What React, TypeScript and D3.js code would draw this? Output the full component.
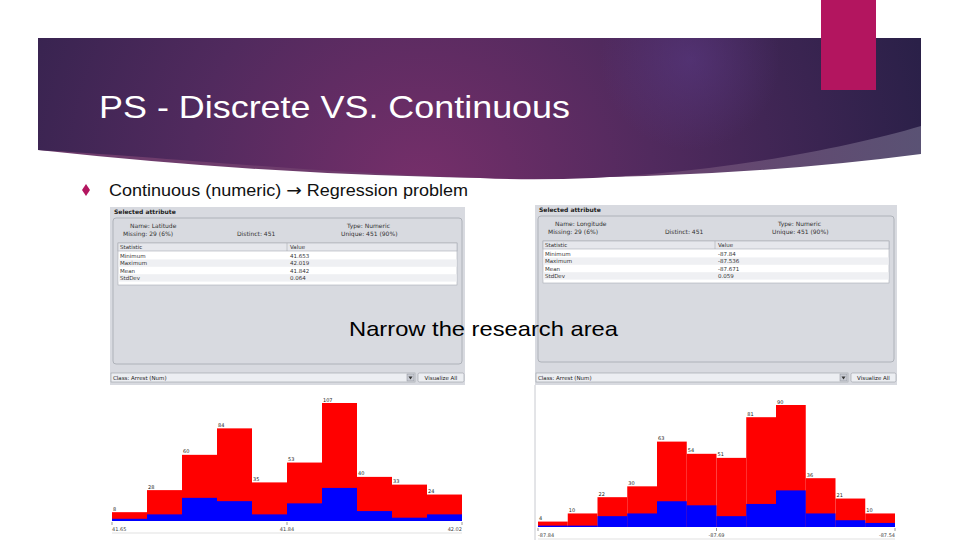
import React from 'react';
import * as d3 from 'd3';

// ---- data ----
const latCounts = [8, 28, 60, 84, 35, 53, 107, 40, 33, 24];
const latBlue = [2, 6, 21, 18, 6, 16, 30, 9, 3, 6];
const latTicks = ['41.65', '41.84', '42.02'];
const lonCounts = [4, 10, 22, 30, 63, 54, 51, 81, 90, 36, 21, 10];
const lonBlue = [1, 1, 8, 10, 19, 16, 8, 17, 27, 10, 5, 3];
const lonTicks = ['-87.84', '-87.69', '-87.54'];
const statNames = ['Minimum', 'Maximum', 'Mean', 'StdDev'];
const latStats = ['41.653', '42.019', '41.842', '0.064'];
const lonStats = ['-87.84', '-87.536', '-87.671', '0.059'];

const SMALL = '"DejaVu Sans", sans-serif';
const ARIAL = '"Liberation Sans", Arial, sans-serif';

type HistProps = {
  x0: number; x1: number; base: number; top: number;
  counts: number[]; blue: number[]; ticks: string[];
};

function Histogram({ x0, x1, base, top, counts, blue, ticks }: HistProps) {
  const n = counts.length;
  const x = d3.scaleLinear().domain([0, n]).range([x0, x1]);
  const y = d3.scaleLinear().domain([0, d3.max(counts) as number]).range([base, top]);
  const tickPos = [0, n / 2, n];
  return (
    <g>
      {counts.map((c, i) => (
        <rect key={'r' + i} x={x(i)} y={y(c)} width={x(i + 1) - x(i)} height={base - y(c)}
          fill="#ff0000" />
      ))}
      {blue.map((b, i) => (
        <rect key={'b' + i} x={x(i)} y={y(b)} width={x(i + 1) - x(i)} height={base - y(b)}
          fill="#0000ff" />
      ))}
      {counts.map((c, i) => (
        <text key={'t' + i} x={x(i) + 1} y={y(c) - 1.5} fontSize={5} fontFamily={SMALL} fill="#222">{c}</text>
      ))}
      {tickPos.map((t, i) => (
        <line key={'k' + i} x1={x(t)} x2={x(t)} y1={base + 1} y2={base + 4} stroke="#555" strokeWidth={0.6} />
      ))}
      {tickPos.map((t, i) => (
        <text key={'l' + i} x={x(t)} y={base + 10} fontSize={5} fontFamily={SMALL} fill="#444"
          textAnchor={i === 0 ? 'start' : i === 1 ? 'middle' : 'end'}>{ticks[i]}</text>
      ))}
      <line x1={x0} x2={x1} y1={base + 12} y2={base + 12} stroke="#ccc" strokeWidth={0.6} />
    </g>
  );
}

type PanelProps = {
  left: number; right: number; top: number;
  name: string; stats: string[]; valueX: number; distinctX: number; typeX: number;
  comboRight: number;
};

function Panel({ left, right, top, name, stats, valueX, distinctX, typeX, comboRight }: PanelProps) {
  const w = right - left;
  const tblTop = top + 36;
  return (
    <g>
      <rect x={left} y={top} width={w} height={385 - top} fill="#d8dae0" />
      <text x={left + 4} y={top + 7} fontSize={6} fontWeight="bold" fontFamily={SMALL} fill="#222">Selected attribute</text>
      <rect x={left + 3} y={top + 11} width={w - 6} height={146} rx={3} fill="#d8dae0" stroke="#a4a8b0" strokeWidth={0.8} />
      <text x={left + 20} y={top + 21} fontSize={6} fontFamily={SMALL} fill="#333">Name: {name}</text>
      <text x={left + 13} y={top + 29} fontSize={6} fontFamily={SMALL} fill="#333">Missing: 29 (6%)</text>
      <text x={distinctX} y={top + 29} fontSize={6} fontFamily={SMALL} fill="#333">Distinct: 451</text>
      <text x={typeX} y={top + 21} fontSize={6} fontFamily={SMALL} fill="#333">Type: Numeric</text>
      <text x={typeX - 6} y={top + 29} fontSize={6} fontFamily={SMALL} fill="#333">Unique: 451 (90%)</text>
      <rect x={left + 8} y={tblTop} width={w - 16} height={42} fill="#ffffff" stroke="#a8acb4" strokeWidth={0.6} />
      <rect x={left + 8} y={tblTop} width={w - 16} height={8} fill="#e6e7ec" stroke="#a8acb4" strokeWidth={0.6} />
      <line x1={valueX - 3} x2={valueX - 3} y1={tblTop} y2={tblTop + 8} stroke="#a8acb4" strokeWidth={0.6} />
      <text x={left + 10} y={tblTop + 6} fontSize={5.5} fontFamily={SMALL} fill="#333">Statistic</text>
      <text x={valueX} y={tblTop + 6} fontSize={5.5} fontFamily={SMALL} fill="#333">Value</text>
      {statNames.map((s, i) => (
        <g key={s}>
          {i % 2 === 1 && <rect x={left + 8.5} y={tblTop + 9 + i * 7.4} width={w - 17} height={7.4} fill="#eff0f3" />}
          <text x={left + 10} y={tblTop + 15 + i * 7.4} fontSize={5.5} fontFamily={SMALL} fill="#333">{s}</text>
          <text x={valueX} y={tblTop + 15 + i * 7.4} fontSize={5.5} fontFamily={SMALL} fill="#333">{stats[i]}</text>
        </g>
      ))}
      <rect x={left + 1} y={373} width={comboRight - left - 1} height={9} fill="#eceef2" stroke="#9a9ea6" strokeWidth={0.6} />
      <text x={left + 3} y={380} fontSize={5.5} fontFamily={SMALL} fill="#222">Class: Arrest (Num)</text>
      <rect x={comboRight - 8} y={374} width={7} height={7} fill="#c9ccd4" stroke="#8a8e96" strokeWidth={0.5} />
      <path d={`M${comboRight - 6.5},376.5 L${comboRight - 2.5},376.5 L${comboRight - 4.5},379.5 Z`} fill="#333" />
      <rect x={comboRight + 3} y={373} width={right - comboRight - 4} height={9} rx={1.5} fill="#eceef2" stroke="#9a9ea6" strokeWidth={0.6} />
      <text x={(comboRight + right) / 2 + 1} y={380} fontSize={5.5} fontFamily={SMALL} fill="#222" textAnchor="middle">Visualize All</text>
    </g>
  );
}

export default function App() {
  // banner geometry
  const outerBottom = 'M38,38 L921,38 L921,154 Q540,204 38,150 Z';
  const darkShape = 'M38,38 L921,38 L921,126 C820,156 640,186 480,178 C300,172 150,156 38,150 Z';
  return (
    <svg width={960} height={540} style={{ position: 'absolute', left: 0, top: 0 }}>
      <defs>
        <radialGradient id="bannerGrad" gradientUnits="userSpaceOnUse" cx={420} cy={190} r={520}>
          <stop offset="0" stopColor="#762f6a" />
          <stop offset="0.45" stopColor="#512a5e" />
          <stop offset="1" stopColor="#2a2048" />
        </radialGradient>
        <radialGradient id="spot" gradientUnits="userSpaceOnUse" cx={690} cy={60} r={90}>
          <stop offset="0" stopColor="#5a3a86" stopOpacity={0.55} />
          <stop offset="1" stopColor="#5a3a86" stopOpacity={0} />
        </radialGradient>
        <linearGradient id="wedge" gradientUnits="userSpaceOnUse" x1={560} y1={0} x2={921} y2={0}>
          <stop offset="0" stopColor="#6e3c6c" />
          <stop offset="1" stopColor="#5a5274" />
        </linearGradient>
      </defs>
      <rect x={0} y={0} width={960} height={540} fill="#ffffff" />
      <path d={outerBottom} fill="url(#wedge)" />
      <path d={darkShape} fill="url(#bannerGrad)" />
      <path d={darkShape} fill="url(#spot)" />
      <rect x={821} y={0} width={55} height={90} fill="#b3155f" />
      <text x={99} y={118} fontSize={32} fontFamily={ARIAL} fill="#ffffff" textLength={471} lengthAdjust="spacingAndGlyphs">PS - Discrete VS. Continuous</text>

      <path d="M86,184 L90,190 L86,196 L82,190 Z" fill="#b3155f" />
      <text x={109} y={196} fontSize={16.5} fontFamily={ARIAL} fill="#111" textLength={359} lengthAdjust="spacingAndGlyphs">Continuous (numeric) <tspan fontFamily={SMALL} fontSize={17}>→</tspan> Regression problem</text>

      <Panel left={110} right={465} top={207} name="Latitude" stats={latStats}
        valueX={290} distinctX={237} typeX={347} comboRight={415} />
      <Panel left={535} right={897} top={205} name="Longitude" stats={lonStats}
        valueX={718} distinctX={665} typeX={778} comboRight={848} />
      <line x1={535} x2={535} y1={385} y2={540} stroke="#c8cad0" strokeWidth={1} />

      <Histogram x0={112} x1={462} base={521} top={403} counts={latCounts} blue={latBlue} ticks={latTicks} />
      <Histogram x0={538} x1={895} base={527} top={405} counts={lonCounts} blue={lonBlue} ticks={lonTicks} />

      <text x={349} y={336} fontSize={21} fontFamily={ARIAL} fill="#000" textLength={269} lengthAdjust="spacingAndGlyphs">Narrow the research area</text>
    </svg>
  );
}
